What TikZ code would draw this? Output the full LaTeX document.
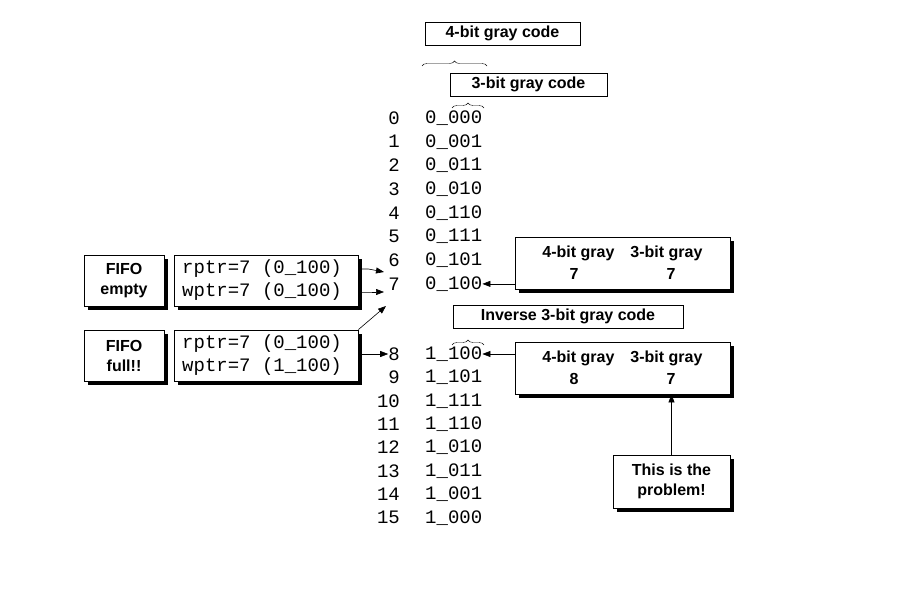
\documentclass[tikz,border=0pt]{standalone}
\usepackage{fontspec}
\setmainfont{Liberation Sans}
\newfontfamily\mono{Liberation Mono}
\usetikzlibrary{decorations.pathreplacing,arrows.meta}
\begin{document}
\begin{tikzpicture}[x=1pt,y=-1pt,
  lbl/.style={draw,thin,font=\fontsize{16}{18}\selectfont\bfseries,inner sep=0pt,align=center},
  sbox/.style={draw,line width=0.8pt,fill=white,font=\fontsize{16}{20}\selectfont\bfseries,align=center,inner sep=0pt},
  shd/.style={fill=black},
  cd/.style={font=\mono\fontsize{19}{20}\selectfont,inner sep=0pt,anchor=west},
  num/.style={font=\mono\fontsize{19}{20}\selectfont,inner sep=0pt,anchor=east},
  br/.style={decorate,decoration={brace,amplitude=5pt},thin},
  arr/.style={-{Triangle[length=8pt,width=6pt]},line width=0.6pt}]
\useasboundingbox (0,0) rectangle (911,593);
% top labels
\node[lbl,minimum width=155,minimum height=23] (g4) at (502.5,33.5) {4-bit gray code};
\node[lbl,minimum width=157,minimum height=23] (g3) at (528.5,84.5) {3-bit gray code};
\draw[br] (422,66) -- (487,66);
\draw[br] (452,108) -- (484,108);
% rows
\foreach \i/\c in {0/000,1/001,2/011,3/010,4/110,5/111,6/101,7/100}{
  \node[num] (n\i) at (400,{118+23.7*\i}) {\i};
  \node[cd] (c\i) at (425,{118+23.7*\i}) {0\_\c};
}
\foreach \i/\c in {8/100,9/101,10/111,11/110,12/010,13/011,14/001,15/000}{
  \node[num] (n\i) at (400,{354+23.4*(\i-8)}) {\i};
  \node[cd] (c\i) at (425,{354+23.4*(\i-8)}) {1\_\c};
}
\node[lbl,minimum width=230,minimum height=23] (inv) at (568,316.5) {Inverse 3-bit gray code};
\draw[br] (452,345) -- (484,345);
% shadowed boxes
\newcommand{\shbox}[6]{%
  \fill[shd] (#2+4,#3+4) rectangle (#4+4,#5+4);
  \node[sbox,minimum width={#4-#2},minimum height={#5-#3}] (#1) at ({(#2+#4)/2},{(#3+#5)/2}) {#6};}
\shbox{fe}{84}{255}{164}{306}{FIFO\\empty}
\shbox{ff}{84}{330}{164}{381}{FIFO\\full!!}
\shbox{pe}{174}{255}{358}{306}{}
\shbox{pf}{174}{330}{358}{381}{}
\node[cd] (pe1) at (182,269) {rptr=7 (0\_100)};
\node[cd] (pe2) at (182,292) {wptr=7 (0\_100)};
\node[cd] (pf1) at (182,344) {rptr=7 (0\_100)};
\node[cd] (pf2) at (182,367) {wptr=7 (1\_100)};
\shbox{r1}{515}{237}{730}{289}{4-bit gray\quad 3-bit gray\\[2pt]7\hspace{5.5em}7}
\shbox{r2}{515}{342}{730}{394}{4-bit gray\quad 3-bit gray\\[2pt]8\hspace{5.5em}7}
\shbox{pb}{613}{455}{730}{508}{This is the\\problem!}
% arrows
\coordinate (a1) at (384,272);
\coordinate (a2) at (384,292);
\coordinate (a3) at (386,306);
\draw[arr] (pe.east|-pe1) -- ++(10,0) -- (a1);
\draw[arr] (pe.east|-pe2) -- ++(10,0) -- (a2);
\draw[arr] (pf.north east) -- (a3);
\draw[arr] (pf.east|-c8) -- (n8.west);
\draw[arr] (r1.west|-c7) -- (c7.east);
\draw[arr] (r2.west|-c8) -- (c8.east);
\draw[arr] (pb.north) -- (r2.south-|pb.north);
\end{tikzpicture}
\end{document}
